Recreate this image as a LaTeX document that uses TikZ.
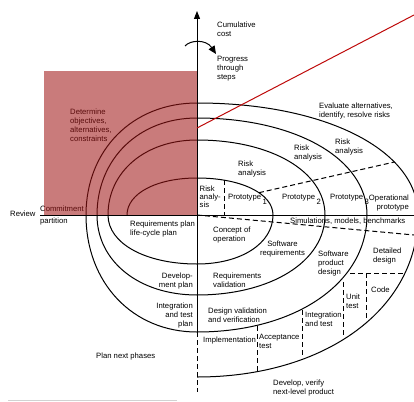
\documentclass[tikz,border=0pt]{standalone}
\usepackage{fontspec}
\newfontfamily\lab{Liberation Sans}
\usetikzlibrary{arrows.meta}
\definecolor{ovl}{RGB}{159,21,21}
\definecolor{redline}{RGB}{190,10,10}
\begin{document}
\begin{tikzpicture}[x=1pt,y=-1pt,
  lbl/.style={font=\lab\fontsize{7.7}{9}\selectfont, inner sep=0pt, align=left, anchor=north west},
  lblr/.style={lbl, align=right, anchor=north east},
  lblc/.style={lbl, align=center, anchor=north},
  sp/.style={line width=1pt, line join=round},
  dsh/.style={line width=1pt, dash pattern=on 5pt off 3pt}]
\useasboundingbox (0,0) rectangle (414,401);
% spiral
\draw[sp] (127,215) .. controls (127,193.5) and (156.4,178) .. (197,178)
 .. controls (241.1,178) and (273,193.5) .. (273,215)
 .. controls (273,243.4) and (241.1,264) .. (197,264)
 .. controls (145.4,264) and (108,243.4) .. (108,215)
 .. controls (108,171.5) and (145.4,140) .. (197,140)
 .. controls (271.2,140) and (325,171.5) .. (325,215)
 .. controls (325,261.4) and (271.2,295) .. (197,295)
 .. controls (139,295) and (97,261.4) .. (97,215)
 .. controls (97,158.7) and (139,118) .. (197,118)
 .. controls (295.6,118) and (367,158.7) .. (367,215)
 .. controls (367,282.9) and (295.6,332) .. (197,332)
 .. controls (132.6,332) and (86,282.9) .. (86,215)
 .. controls (86,150) and (132.6,103) .. (197,103)
 .. controls (325.2,103) and (418,150) .. (418,215)
 .. controls (418,309) and (325.2,377) .. (197,377);
% axes
\coordinate (top) at (197,11);
\coordinate (mid) at (197,332);
\coordinate (bot) at (197,392);
\draw[sp,-{Triangle[length=8pt,width=6pt]}] (mid) -- (top);
\draw[dsh] (mid) -- (bot);
\coordinate (hl) at (40,215);
\coordinate (hr) at (414,215);
\draw[sp] (hl) -- (hr);
% progress arrow
\coordinate (pa) at (185,46);
\coordinate (pb) at (216,54);
\draw[sp,-{Triangle[length=8pt,width=7pt]}] (pa) .. controls (190,40) and (206,39) .. (pb);
% dashed dividers
\draw[dsh] (197,215) -- (414,235);
\draw[dsh] (258.9,192.7) -- (394.5,162);
\draw[dsh] (224,180) -- (224,215);
\draw[dsh] (350,273) -- (405,273);
\draw[dsh] (366,273) -- (366,320);
\draw[dsh] (343,282) -- (343,337);
\draw[dsh] (302,310) -- (302,357);
\draw[dsh] (257,326) -- (257,372);
% red line
\coordinate (ra) at (197,128);
\coordinate (rb) at (414,15);
\draw[redline, line width=1pt] (ra) -- (rb);
% bottom faint line
\draw[gray!35, line width=0.8pt] (8,400) -- (177,400);
% labels
\node[lbl] (cost) at (217,22) {Cumulative\\cost};
\node[lbl] (prog) at (217,56.5) {Progress\\through\\steps};
\node[lbl] (det) at (70,109) {Determine\\objectives,\\alternatives,\\constraints};
\node[lbl] (eval) at (319,103) {Evaluate alternatives,\\identify, resolve risks};
\node[lbl] (ra4) at (335,139) {Risk\\analysis};
\node[lbl] (ra3) at (294,145) {Risk\\analysis};
\node[lbl] (ra2) at (238,161) {Risk\\analysis};
\node[lbl, font=\lab\fontsize{7.7}{8}\selectfont] (ra1) at (199.5,186) {Risk\\analy-\\sis};
\node[lbl] (p1) at (228,194.5) {Prototype\hspace{1.5pt}\raisebox{-5pt}{1}};
\node[lbl] (p2) at (282,194.5) {Prototype\hspace{1.5pt}\raisebox{-5pt}{2}};
\node[lbl] (p3) at (330,194.5) {Prototype\hspace{1.5pt}\raisebox{-5pt}{3}};
\node[lblr] (op) at (409,195) {Operational\\prototype};
\node[lbl] (sim) at (290,217.5) {Simulations, models, benchmarks};
\node[lbl] (rp) at (130,221) {Requirements plan\\life-cycle plan};
\node[lbl] (co) at (213,227) {Concept of\\operation};
\node[lblc] (sr) at (282.5,241) {Software\\requirements};
\node[lbl] (spd) at (318,251) {Software\\product\\design};
\node[lbl] (dd) at (373,248) {Detailed\\design};
\node[lbl] (rv) at (213,273) {Requirements\\validation};
\node[lblr] (dp) at (193,273) {Develop-\\ment plan};
\node[lblr] (itp) at (193,303) {Integration\\and test\\plan};
\node[lbl] (dvv) at (208,308) {Design validation\\and verification};
\node[lbl] (code) at (371,287) {Code};
\node[lbl] (ut) at (346,294) {Unit\\test};
\node[lbl] (it) at (305,312) {Integration\\and test};
\node[lbl] (at) at (259,334) {Acceptance\\test};
\node[lbl] (impl) at (203,337) {Implementation};
\node[lbl] (dvn) at (273,380) {Develop, verify\\next-level product};
\node[lbl] (pnp) at (96,353) {Plan next phases};
\node[lbl] (rev) at (10,211) {Review};
\node[lbl] (com) at (40,206) {Commitment};
\node[lbl] (par) at (40,218) {partition};
% red overlay
\fill[ovl, fill opacity=0.565] (44,71) rectangle (197,215);
\end{tikzpicture}
\end{document}
